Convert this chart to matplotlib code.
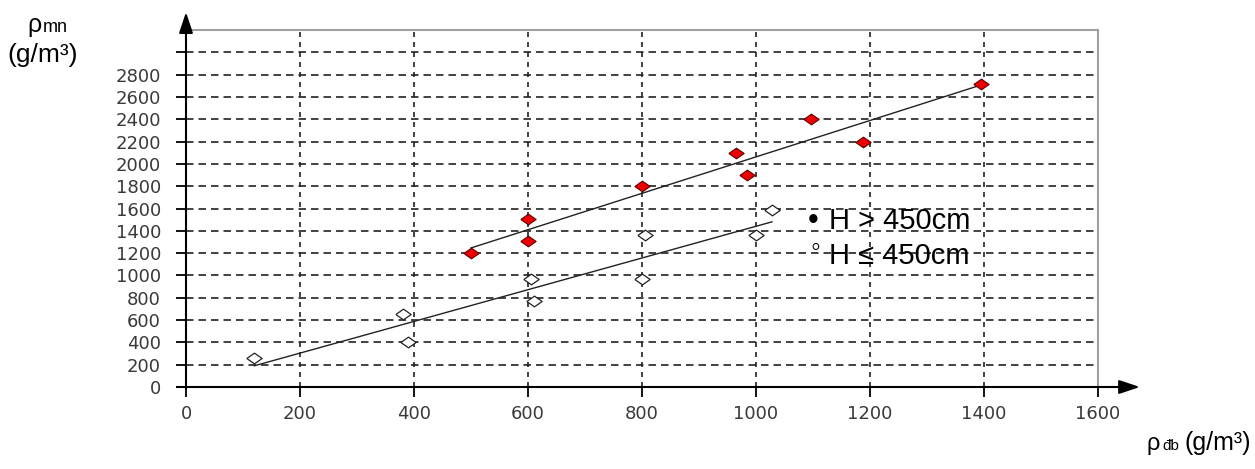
import numpy as np
import matplotlib
matplotlib.use("Agg")
from matplotlib import pyplot as plt

# H > 450cm (red diamonds)
x_high = [500, 600, 600, 800, 965, 985, 1096, 1187, 1395]
y_high = [1200, 1510, 1310, 1800, 2100, 1900, 2400, 2200, 2720]
# H <= 450cm (open diamonds)
x_low = [120, 380, 390, 605, 610, 805, 800, 1000, 1028]
y_low = [260, 650, 400, 970, 770, 1360, 970, 1360, 1590]

xticks = [0, 200, 400, 600, 800, 1000, 1200, 1400, 1600]
yticks = [0, 200, 400, 600, 800, 1000, 1200, 1400, 1600, 1800, 2000, 2200, 2400, 2600, 2800, 3000]
ytick_labels = [str(v) for v in yticks[:-1]] + [""]

W, H = 1255, 469
fig = plt.figure(figsize=(W / 100, H / 100), dpi=100)
ax = fig.add_axes([186 / W, 1 - 387 / H, 912 / W, 357 / H])
ax.set_xlim(0, 1600)
ax.set_ylim(0, 3200)

# dashed grid
for v in yticks[1:]:
    ax.axhline(v, color="#222222", lw=1.2, ls=(0, (4.5, 3)), zorder=1)
for v in xticks[1:-1]:
    ax.axvline(v, color="#222222", lw=1.2, ls=(0, (3, 3)), zorder=1)

# spines
for s in ["left", "bottom"]:
    ax.spines[s].set_visible(False)
for s in ["top", "right"]:
    ax.spines[s].set_color("#a0a0a0")
    ax.spines[s].set_linewidth(1.5)

# axis arrows
arr = dict(arrowstyle="-|>,head_length=0.9,head_width=0.3", color="black", lw=1.5,
           shrinkA=0, shrinkB=0, mutation_scale=14)
ax.annotate("", xy=(0, 1.05), xytext=(0, -0.005), xycoords="axes fraction",
            arrowprops=arr, annotation_clip=False)
ax.annotate("", xy=(1.046, 0), xytext=(-0.01, 0), xycoords="axes fraction",
            arrowprops=arr, annotation_clip=False)

ax.set_xticks(xticks)
ax.set_yticks(yticks)
ax.set_yticklabels(ytick_labels)
ax.tick_params(axis="both", direction="out", length=7, width=1.3, color="black",
               labelsize=13, labelcolor="#3a3a3a")
ax.tick_params(axis="y", pad=11)
ax.tick_params(axis="x", pad=6)

# regression lines
for xs, ys in [(x_high, y_high), (x_low, y_low)]:
    k, b = np.polyfit(xs, ys, 1)
    xx = np.array([min(xs), max(xs)])
    ax.plot(xx, k * xx + b, color="#222222", lw=1.0, zorder=2)

diamond = [(-1, 0), (0, 0.7), (1, 0), (0, -0.7), (-1, 0)]
ax.plot(x_high, y_high, ls="none", marker=diamond, ms=11, mfc="#ee0000",
        mec="#600000", mew=0.8, zorder=3)
ax.plot(x_low, y_low, ls="none", marker=diamond, ms=11, mfc="white",
        mec="#222222", mew=0.9, zorder=3)

fam = ["Liberation Sans", "DejaVu Sans"]

# legend as text
fig.text(808 / W, 1 - 221 / H, "•", fontsize=22, family=fam, va="center")
fig.text(829 / W, 1 - 221 / H, "H > 450cm", fontsize=21, family=fam, va="center")
fig.text(810 / W, 1 - 248 / H, "◦", fontsize=20, family=fam, va="center")
fig.text(829 / W, 1 - 256 / H, "H ≤ 450cm", fontsize=21, family=fam, va="center")

# axis titles
fig.text(27 / W, 1 - 32 / H, "ρ", fontsize=18, family=fam, va="baseline")
fig.text(43 / W, 1 - 32 / H, "mn", fontsize=13, family=fam, va="baseline")
fig.text(7 / W, 1 - 62 / H, "(g/m³)", fontsize=19, family=fam, va="baseline")

fig.text(1147 / W, 1 - 450 / H, "ρ", fontsize=17, family=fam, va="baseline")
fig.text(1162 / W, 1 - 450 / H, "đb", fontsize=11, family=fam, va="baseline")
fig.text(1184 / W, 1 - 450 / H, "(g/m³)", fontsize=18, family=fam, va="baseline")

fig.savefig("out.png", dpi=100)
